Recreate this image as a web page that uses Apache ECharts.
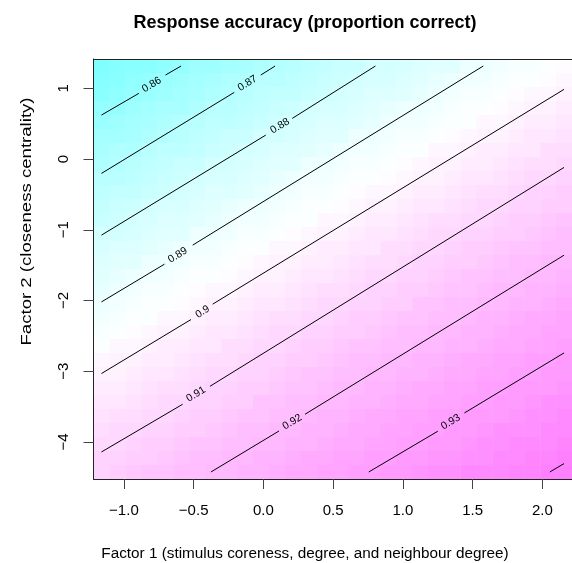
<!DOCTYPE html>
<html><head><meta charset="utf-8">
<script src="https://cdn.jsdelivr.net/npm/echarts@6/dist/echarts.min.js"></script>
<style>html,body{margin:0;padding:0;background:#fff}#c{width:572px;height:563px}</style>
</head><body><div id="c"></div>
<script>
const titleText = 'Response accuracy (proportion correct)';
const xLabel = 'Factor 1 (stimulus coreness, degree, and neighbour degree)';
const yLabel = 'Factor 2 (closeness centrality)';
const xTicks = [-1.0, -0.5, 0.0, 0.5, 1.0, 1.5, 2.0];
const yTicks = [-4, -3, -2, -1, 0, 1];
// grid centres (x: left to right, y: top to bottom)
const xs = [-1.161,-1.047,-0.932,-0.818,-0.704,-0.589,-0.475,-0.361,-0.246,-0.132,-0.018,0.097,0.211,0.325,0.440,0.554,0.668,0.783,0.897,1.011,1.126,1.240,1.354,1.469,1.583,1.698,1.812,1.926,2.041,2.155];
const ys = [1.316,1.118,0.920,0.722,0.524,0.326,0.128,-0.070,-0.268,-0.466,-0.664,-0.862,-1.060,-1.258,-1.456,-1.654,-1.852,-2.050,-2.247,-2.445,-2.643,-2.841,-3.039,-3.237,-3.435,-3.633,-3.831,-4.029,-4.227,-4.425];
// proportion correct, one row per ys entry
const zRows = [
[.851,.853,.855,.856,.858,.860,.862,.863,.865,.867,.868,.870,.872,.873,.875,.877,.878,.880,.881,.883,.884,.886,.887,.889,.890,.891,.893,.894,.895,.897],
[.854,.855,.857,.859,.861,.862,.864,.866,.868,.869,.871,.872,.874,.876,.877,.879,.880,.882,.883,.885,.886,.888,.889,.891,.892,.893,.895,.896,.897,.899],
[.856,.858,.860,.861,.863,.865,.867,.868,.870,.872,.873,.875,.876,.878,.879,.881,.882,.884,.885,.887,.888,.890,.891,.893,.894,.895,.897,.898,.899,.901],
[.859,.860,.862,.864,.866,.867,.869,.871,.872,.874,.875,.877,.879,.880,.882,.883,.885,.886,.888,.889,.890,.892,.893,.895,.896,.897,.899,.900,.901,.902],
[.861,.863,.865,.866,.868,.870,.871,.873,.874,.876,.878,.879,.881,.882,.884,.885,.887,.888,.890,.891,.892,.894,.895,.896,.898,.899,.901,.902,.903,.904],
[.864,.865,.867,.869,.870,.872,.874,.875,.877,.878,.880,.881,.883,.884,.886,.887,.889,.890,.892,.893,.894,.896,.897,.898,.900,.901,.902,.904,.905,.906],
[.866,.868,.869,.871,.873,.874,.876,.877,.879,.881,.882,.884,.885,.886,.888,.889,.891,.892,.894,.895,.896,.898,.899,.900,.902,.903,.904,.905,.907,.908],
[.868,.870,.872,.873,.875,.877,.878,.880,.881,.883,.884,.886,.887,.889,.890,.891,.893,.894,.895,.897,.898,.900,.901,.902,.903,.905,.906,.907,.908,.910],
[.871,.872,.874,.876,.877,.879,.880,.882,.883,.885,.886,.888,.889,.891,.892,.893,.895,.896,.897,.899,.900,.901,.903,.904,.905,.906,.908,.909,.910,.911],
[.873,.875,.876,.878,.879,.881,.882,.884,.885,.887,.888,.890,.891,.893,.894,.895,.897,.898,.899,.901,.902,.903,.904,.906,.907,.908,.909,.911,.912,.913],
[.875,.877,.879,.880,.882,.883,.885,.886,.888,.889,.890,.892,.893,.895,.896,.897,.899,.900,.901,.902,.904,.905,.906,.907,.909,.910,.911,.912,.913,.914],
[.878,.879,.881,.882,.884,.885,.887,.888,.890,.891,.892,.894,.895,.896,.898,.899,.901,.902,.903,.904,.906,.907,.908,.909,.910,.912,.913,.914,.915,.916],
[.880,.881,.883,.884,.886,.887,.889,.890,.892,.893,.894,.896,.897,.898,.900,.901,.902,.904,.905,.906,.907,.909,.910,.911,.912,.913,.914,.915,.917,.918],
[.882,.884,.885,.886,.888,.889,.891,.892,.894,.895,.896,.898,.899,.900,.902,.903,.904,.905,.907,.908,.909,.910,.911,.913,.914,.915,.916,.917,.918,.919],
[.884,.886,.887,.889,.890,.891,.893,.894,.895,.897,.898,.900,.901,.902,.903,.905,.906,.907,.908,.910,.911,.912,.913,.914,.915,.916,.918,.919,.920,.921],
[.886,.888,.889,.891,.892,.893,.895,.896,.897,.899,.900,.901,.903,.904,.905,.906,.908,.909,.910,.911,.912,.914,.915,.916,.917,.918,.919,.920,.921,.922],
[.888,.890,.891,.893,.894,.895,.897,.898,.899,.901,.902,.903,.904,.906,.907,.908,.909,.911,.912,.913,.914,.915,.916,.917,.919,.920,.921,.922,.923,.924],
[.890,.892,.893,.895,.896,.897,.899,.900,.901,.902,.904,.905,.906,.907,.909,.910,.911,.912,.913,.914,.916,.917,.918,.919,.920,.921,.922,.923,.924,.925],
[.892,.894,.895,.896,.898,.899,.901,.902,.903,.904,.906,.907,.908,.909,.910,.912,.913,.914,.915,.916,.917,.918,.919,.921,.922,.923,.924,.925,.926,.927],
[.894,.896,.897,.898,.900,.901,.902,.904,.905,.906,.907,.909,.910,.911,.912,.913,.914,.915,.917,.918,.919,.920,.921,.922,.923,.924,.925,.926,.927,.928],
[.896,.898,.899,.900,.902,.903,.904,.905,.907,.908,.909,.910,.911,.913,.914,.915,.916,.917,.918,.919,.920,.921,.922,.923,.924,.925,.926,.927,.928,.929],
[.898,.900,.901,.902,.903,.905,.906,.907,.908,.910,.911,.912,.913,.914,.915,.916,.918,.919,.920,.921,.922,.923,.924,.925,.926,.927,.928,.929,.930,.931],
[.900,.901,.903,.904,.905,.906,.908,.909,.910,.911,.912,.914,.915,.916,.917,.918,.919,.920,.921,.922,.923,.924,.925,.926,.927,.928,.929,.930,.931,.932],
[.902,.903,.904,.906,.907,.908,.909,.911,.912,.913,.914,.915,.916,.917,.919,.920,.921,.922,.923,.924,.925,.926,.927,.928,.929,.930,.931,.932,.932,.933],
[.904,.905,.906,.907,.909,.910,.911,.912,.913,.914,.916,.917,.918,.919,.920,.921,.922,.923,.924,.925,.926,.927,.928,.929,.930,.931,.932,.933,.934,.935],
[.906,.907,.908,.909,.910,.912,.913,.914,.915,.916,.917,.918,.919,.921,.922,.923,.924,.925,.926,.927,.928,.929,.930,.931,.931,.932,.933,.934,.935,.936],
[.907,.909,.910,.911,.912,.913,.914,.915,.917,.918,.919,.920,.921,.922,.923,.924,.925,.926,.927,.928,.929,.930,.931,.932,.933,.934,.934,.935,.936,.937],
[.909,.910,.911,.913,.914,.915,.916,.917,.918,.919,.920,.921,.922,.923,.924,.925,.926,.927,.928,.929,.930,.931,.932,.933,.934,.935,.936,.937,.937,.938],
[.911,.912,.913,.914,.915,.916,.918,.919,.920,.921,.922,.923,.924,.925,.926,.927,.928,.929,.930,.931,.932,.933,.933,.934,.935,.936,.937,.938,.939,.940],
[.912,.914,.915,.916,.917,.918,.919,.920,.921,.922,.923,.924,.925,.926,.927,.928,.929,.930,.931,.932,.933,.934,.935,.936,.936,.937,.938,.939,.940,.941]
];
// contour levels: label text, segment before label gap, segment after gap, label anchor
const contourLabels = ['0.86','0.87','0.88','0.89','0.9','0.91','0.92','0.93','0.94'];
const contourSegA = [
[[-1.161,0.622],[-0.893,0.929]],
[[-1.161,-0.203],[-0.209,0.943]],
[[-1.161,-1.076],[0.017,0.339]],
[[-1.161,-2.020],[-0.709,-1.486]],
[[-1.161,-3.033],[-0.519,-2.269]],
[[-1.161,-4.142],[-0.579,-3.467]],
[[-0.376,-4.425],[0.112,-3.845]],
[[0.755,-4.425],[1.250,-3.849]],
[[2.053,-4.425],[2.155,-4.306]]
];
const contourSegB = [
[[-0.702,1.188],[-0.590,1.316]],
[[-0.019,1.188],[0.084,1.316]],
[[0.207,0.575],[0.803,1.316]],
[[-0.507,-1.217],[1.576,1.316]],
[[-0.364,-2.052],[2.155,0.986]],
[[-0.383,-3.213],[2.155,-0.118]],
[[0.298,-3.609],[2.155,-1.359]],
[[1.441,-3.590],[2.155,-2.741]],
[]
];
const contourLabelPos = [[-0.800,1.051],[-0.114,1.071],[0.119,0.467],[-0.614,-1.359],[-0.436,-2.161],[-0.483,-3.326],[0.207,-3.718],[1.343,-3.718],null];

const FONT = 'Liberation Sans, Arial, Helvetica, sans-serif';
const dx = xs[1] - xs[0];
const dy = ys[0] - ys[1];
const cellData = [];
let zMin = Infinity, zMax = -Infinity;
for (let r = 0; r < ys.length; r++) {
  for (let c = 0; c < xs.length; c++) {
    const z = zRows[r][c];
    cellData.push([xs[c], ys[r], z]);
    zMin = Math.min(zMin, z); zMax = Math.max(zMax, z);
  }
}
const xMin = xs[0] - dx / 2, xMax = xs[xs.length - 1] + dx / 2;
const yMax = ys[0] + dy / 2, yMin = ys[ys.length - 1] - dy / 2;
const minus = v => (v < 0 ? '\u2212' : '') + Math.abs(v);

const series = [{
  type: 'custom',
  silent: true,
  z: 1,
  encode: { x: 0, y: 1 },
  data: cellData,
  renderItem: (params, api) => {
    const p = api.coord([api.value(0) - dx / 2, api.value(1) + dy / 2]);
    const s = api.size([dx, dy]);
    return { type: 'rect', shape: { x: p[0], y: p[1], width: s[0] + 0.6, height: s[1] + 0.6 }, style: { fill: api.visual('color') } };
  }
}];
const lineStyle = { color: '#000', width: 1 };
for (let k = 0; k < contourLabels.length; k++) {
  [contourSegA[k], contourSegB[k]].forEach(seg => {
    if (seg.length) series.push({ type: 'line', data: seg, symbol: 'none', lineStyle, silent: true, z: 3, animation: false });
  });
  if (contourLabelPos[k]) {
    series.push({
      type: 'scatter', data: [contourLabelPos[k]], symbol: 'circle', symbolSize: 2, itemStyle: { color: 'rgba(0,0,0,0)' }, silent: true, z: 4,
      label: { show: true, position: 'inside', formatter: contourLabels[k], rotate: 31.6, fontSize: 10.5, fontFamily: FONT, color: '#000', textBorderWidth: 0, opacity: 1 },
      labelLayout: { hideOverlap: false }
    });
  }
}

const chart = echarts.init(document.getElementById('c'), null, { renderer: 'canvas' });
chart.setOption({
  animation: false,
  backgroundColor: '#fff',
  title: [
    { text: titleText, left: 300, top: 9, textAlign: 'center', textStyle: { fontSize: 18, fontWeight: 'bold', fontFamily: FONT, color: '#000' } },
    { text: xLabel, left: 300, top: 541, textAlign: 'center', textStyle: { fontSize: 15.3, fontWeight: 'normal', fontFamily: FONT, color: '#000' } }
  ],
  graphic: [
    { type: 'text', x: 27, y: 221.5, rotation: Math.PI / 2, scaleX: 1.24, style: { text: yLabel, align: 'center', verticalAlign: 'middle', fontSize: 15, fontFamily: FONT, fill: '#000' } }
  ],
  grid: { left: 93.5, top: 59, width: 480.5, height: 420, show: false },
  visualMap: {
    type: 'piecewise', show: false, min: zMin, max: zMax, splitNumber: 50, dimension: 2, seriesIndex: 0,
    inRange: { color: ['#80FFFF', '#FFFFFF', '#FF80FF'] }
  },
  xAxis: [
    { type: 'value', min: xMin, max: xMax, position: 'bottom', z: 10,
      axisLine: { show: true, onZero: false, lineStyle: { color: '#222', width: 1 } },
      axisTick: { show: true, length: 10, customValues: xTicks, lineStyle: { color: '#444' } },
      axisLabel: { customValues: xTicks, formatter: v => (v < 0 ? '\u2212' : '') + Math.abs(v).toFixed(1), fontSize: 15, margin: 24, color: '#000', fontFamily: FONT },
      splitLine: { show: false } },
    { type: 'value', min: xMin, max: xMax, position: 'top', z: 10,
      axisLine: { show: true, onZero: false, lineStyle: { color: '#222', width: 1 } },
      axisTick: { show: false }, axisLabel: { show: false }, splitLine: { show: false } }
  ],
  yAxis: [
    { type: 'value', min: yMin, max: yMax, position: 'left', z: 10,
      axisLine: { show: true, onZero: false, lineStyle: { color: '#222', width: 1 } },
      axisTick: { show: true, length: 10, customValues: yTicks, lineStyle: { color: '#444' } },
      axisLabel: { customValues: yTicks, formatter: minus, rotate: 90, fontSize: 15, margin: 22, color: '#000', fontFamily: FONT },
      splitLine: { show: false } },
    { type: 'value', min: yMin, max: yMax, position: 'right', z: 10,
      axisLine: { show: true, onZero: false, lineStyle: { color: '#222', width: 1 } },
      axisTick: { show: false }, axisLabel: { show: false }, splitLine: { show: false } }
  ],
  series
});
</script></body></html>
